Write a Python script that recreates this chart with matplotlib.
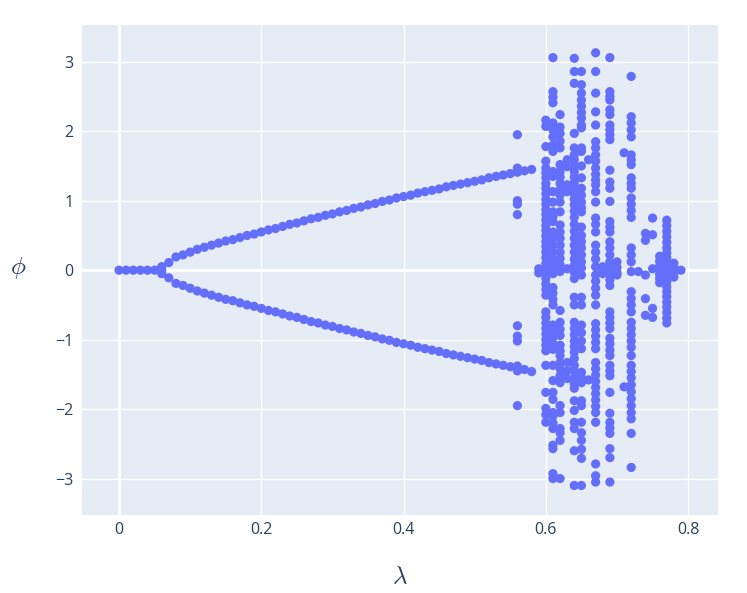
import numpy as np
import matplotlib
matplotlib.use("Agg")
import matplotlib.pyplot as plt

# ---- data ----
lam_zero = [0.00, 0.01, 0.02, 0.03, 0.04, 0.05, 0.06, 0.06, 0.06]
phi_zero = [0.0, 0.0, 0.0, 0.0, 0.0, 0.0, 0.0, 0.05, -0.05]

lam_branch = [round(0.07 + 0.01 * i, 2) for i in range(52)]  # 0.07 ... 0.58
phi_upper = [0.11, 0.19, 0.22, 0.26, 0.30, 0.33, 0.36, 0.39, 0.42, 0.44,
             0.47, 0.50, 0.52, 0.55, 0.58, 0.60, 0.63, 0.66, 0.68, 0.71,
             0.74, 0.76, 0.79, 0.81, 0.84, 0.86, 0.89, 0.91, 0.94, 0.96,
             0.99, 1.01, 1.04, 1.06, 1.08, 1.11, 1.13, 1.15, 1.17, 1.20,
             1.22, 1.24, 1.26, 1.28, 1.30, 1.33, 1.35, 1.37, 1.39, 1.41,
             1.43, 1.45]
phi_lower = [-0.11, -0.19, -0.22, -0.26, -0.30, -0.33, -0.36, -0.39, -0.42, -0.44,
             -0.47, -0.50, -0.52, -0.55, -0.58, -0.60, -0.63, -0.66, -0.68, -0.71,
             -0.74, -0.76, -0.79, -0.81, -0.84, -0.86, -0.89, -0.91, -0.94, -0.96,
             -0.99, -1.01, -1.04, -1.06, -1.08, -1.11, -1.13, -1.15, -1.17, -1.20,
             -1.22, -1.24, -1.26, -1.28, -1.30, -1.33, -1.35, -1.37, -1.39, -1.41,
             -1.43, -1.46]

phi_056 = [1.95, 1.47, 1.00, 0.95, 0.80, -0.80, -0.95, -1.02, -1.38, -1.45, -1.95]
phi_059 = [0.02, -0.04]
phi_060 = [2.16, 2.07, 1.78, 1.57, 1.47, 1.40, 1.33, 1.25, 1.18, 1.10, 1.02, 0.95,
           0.87, 0.80, 0.72, 0.64, 0.57, 0.49, 0.41, 0.34, 0.26, 0.18, 0.10, 0.03,
           -0.05, -0.12, -0.20, -0.28, -0.36, -0.60, -0.68, -0.76, -0.84, -0.92,
           -1.00, -1.08, -1.16, -1.37, -1.76, -1.99, -2.08, -2.19]
phi_061 = [3.06, 2.57, 2.49, 2.41, 2.12, 2.02, 1.92, 1.80, 1.71, 1.42, 1.35, 1.13,
           0.98, 0.84, 0.77, 0.70, 0.55, 0.46, 0.36, 0.26, 0.15, 0.05, -0.05, -0.25,
           -0.33, -0.42, -0.50, -0.79, -0.88, -0.97, -1.06, -1.14, -1.37, -1.59,
           -1.76, -1.86, -2.05, -2.10, -2.20, -2.28, -2.52, -2.57, -2.93, -3.00]
phi_062 = [2.24, 2.06, 1.97, 1.86, 1.76, 1.52, 1.42, 1.34, 1.25, 1.16, 1.08, 0.98,
           0.84, 0.65, 0.55, 0.46, 0.36, 0.26, 0.17, 0.08, -0.02, -0.58, -0.75,
           -0.85, -0.94, -1.08, -1.16, -1.23, -1.33, -1.42, -1.52, -1.62, -1.95,
           -2.05, -2.28, -2.34, -2.45, -3.00]
phi_063 = [1.59, 1.49, 1.23, 1.13, 0.02, -1.33, -1.45, -1.56]
phi_064 = [3.05, 2.86, 2.69, 1.97, 1.76, 1.66, 1.59, 1.50, 1.42, 1.34, 1.26, 1.18,
           1.10, 1.02, 0.94, 0.85, 0.76, 0.66, 0.56, 0.46, 0.36, 0.26, 0.16, 0.07,
           -0.03, -0.12, -0.39, -0.50, -0.75, -0.84, -0.93, -1.02, -1.10, -1.18,
           -1.27, -1.37, -1.45, -1.55, -1.63, -1.70, -1.88, -2.02, -2.19, -2.28,
           -2.60, -3.10]
phi_065 = [2.86, 2.67, 2.55, 2.45, 2.36, 2.27, 2.19, 2.09, 2.05, 1.76, 1.71, 1.50,
           1.33, 1.18, 1.08, 0.98, 0.90, 0.84, 0.62, 0.50, 0.41, 0.32, 0.22, 0.12,
           0.03, -0.07, -0.39, -0.50, -0.79, -0.90, -1.02, -1.13, -1.47, -1.55,
           -1.62, -1.88, -1.95, -2.19, -2.34, -2.45, -2.58, -2.71, -3.10]
phi_066 = [1.59, -1.58]
phi_067 = [3.13, 2.86, 2.55, 2.28, 2.09, 1.85, 1.76, 1.66, 1.57, 1.47, 1.38, 1.30,
           1.23, 1.13, 0.98, 0.75, 0.66, 0.55, 0.36, 0.26, 0.16, 0.05, -0.07, -0.16,
           -0.26, -0.36, -0.50, -0.77, -0.86, -0.95, -1.04, -1.13, -1.33, -1.42,
           -1.51, -1.60, -1.69, -1.78, -1.87, -1.96, -2.05, -2.19, -2.79, -2.96,
           -3.05]
phi_068 = [0.05, 0.0, -0.05]
phi_069 = [3.06, 2.57, 2.50, 2.45, 2.31, 2.24, 2.09, 2.02, 1.95, 1.88, 1.44, 1.27,
           1.18, 0.99, 0.70, 0.62, 0.55, 0.41, 0.32, 0.22, 0.12, 0.03, -0.06, -0.14,
           -0.22, -0.60, -0.68, -0.76, -0.84, -0.98, -1.06, -1.15, -1.23, -1.37,
           -1.45, -1.52, -1.76, -2.06, -2.19, -2.27, -2.35, -2.57, -2.70, -3.05]
phi_070 = [0.12, 0.04, -0.03, -0.07]
phi_071 = [1.69, -1.68]
phi_072 = [2.79, 2.21, 2.12, 2.02, 1.92, 1.66, 1.59, 1.52, 1.33, 1.25, 1.18, 1.04,
           0.95, 0.86, 0.76, 0.32, 0.22, 0.12, -0.02, -0.31, -0.41, -0.50, -0.60,
           -0.75, -0.84, -0.93, -1.02, -1.11, -1.23, -1.37, -1.46, -1.55, -1.65,
           -1.75, -1.85, -1.95, -2.05, -2.14, -2.35, -2.84]
phi_073 = [-0.02]
phi_074 = [0.53, 0.43, -0.07, -0.41, -0.65]
phi_075 = [0.75, 0.51, 0.02, -0.55, -0.68]
phi_076 = [0.20, 0.13, 0.06, 0.0, -0.06, -0.12, -0.18]
phi_077 = [0.72, 0.64, 0.56, 0.48, 0.40, 0.32, 0.25, 0.18, 0.11, 0.04, -0.03,
           -0.10, -0.17, -0.24, -0.31, -0.38, -0.46, -0.53, -0.61, -0.69, -0.76]
phi_078 = [0.10, 0.03, -0.04, -0.10]
phi_079 = [0.0]

col_lams = [0.56, 0.59, 0.60, 0.61, 0.62, 0.63, 0.64, 0.65, 0.66, 0.67, 0.68,
            0.69, 0.70, 0.71, 0.72, 0.73, 0.74, 0.75, 0.76, 0.77, 0.78, 0.79]
col_phis = [phi_056, phi_059, phi_060, phi_061, phi_062, phi_063, phi_064,
            phi_065, phi_066, phi_067, phi_068, phi_069, phi_070, phi_071,
            phi_072, phi_073, phi_074, phi_075, phi_076, phi_077, phi_078, phi_079]

x_ticks = [0, 0.2, 0.4, 0.6, 0.8]
x_ticklabels = ["0", "0.2", "0.4", "0.6", "0.8"]
y_ticks = [-3, -2, -1, 0, 1, 2, 3]
y_ticklabels = ["\u22123", "\u22122", "\u22121", "0", "1", "2", "3"]

# ---- assemble points ----
xs = list(lam_zero) + list(lam_branch) + list(lam_branch)
ys = list(phi_zero) + list(phi_upper) + list(phi_lower)
for lam, vals in zip(col_lams, col_phis):
    xs += [lam] * len(vals)
    ys += list(vals)

# ---- draw ----
W, H, DPI = 747, 593, 100
fig = plt.figure(figsize=(W / DPI, H / DPI), dpi=DPI)
fig.patch.set_facecolor("white")
ax = fig.add_axes([82 / W, 1 - 515 / H, (718 - 82) / W, (515 - 25) / H])
ax.set_facecolor("#E5ECF6")
for s in ax.spines.values():
    s.set_visible(False)

ax.set_xlim(-0.052, 0.842)
ax.set_ylim(-3.525, 3.53)
ax.set_xticks(x_ticks)
ax.set_xticklabels(x_ticklabels)
ax.set_yticks(y_ticks)
ax.set_yticklabels(y_ticklabels)
ax.tick_params(length=0, labelsize=11.5, colors="#2a3f5f", pad=5)
ax.tick_params(axis="y", pad=6)
for lab in ax.get_xticklabels() + ax.get_yticklabels():
    lab.set_fontfamily("Open Sans")

ax.grid(True, color="white", linewidth=1.0, zorder=0)
ax.set_axisbelow(True)
ax.axhline(0, color="white", linewidth=2.2, zorder=1)
ax.axvline(0, color="white", linewidth=2.2, zorder=1)

ax.scatter(xs, ys, s=44, color="#636efa", edgecolors="none", zorder=3)

plt.rcParams["mathtext.fontset"] = "cm"
fig.text(400 / W, 1 - 576 / H, r"$\lambda$", fontsize=18, color="#2a3f5f",
         ha="center", va="center")
fig.text(18 / W, 1 - 268 / H, r"$\phi$", fontsize=18, color="#2a3f5f",
         ha="center", va="center")

fig.savefig("out.png", dpi=DPI, facecolor="white")
